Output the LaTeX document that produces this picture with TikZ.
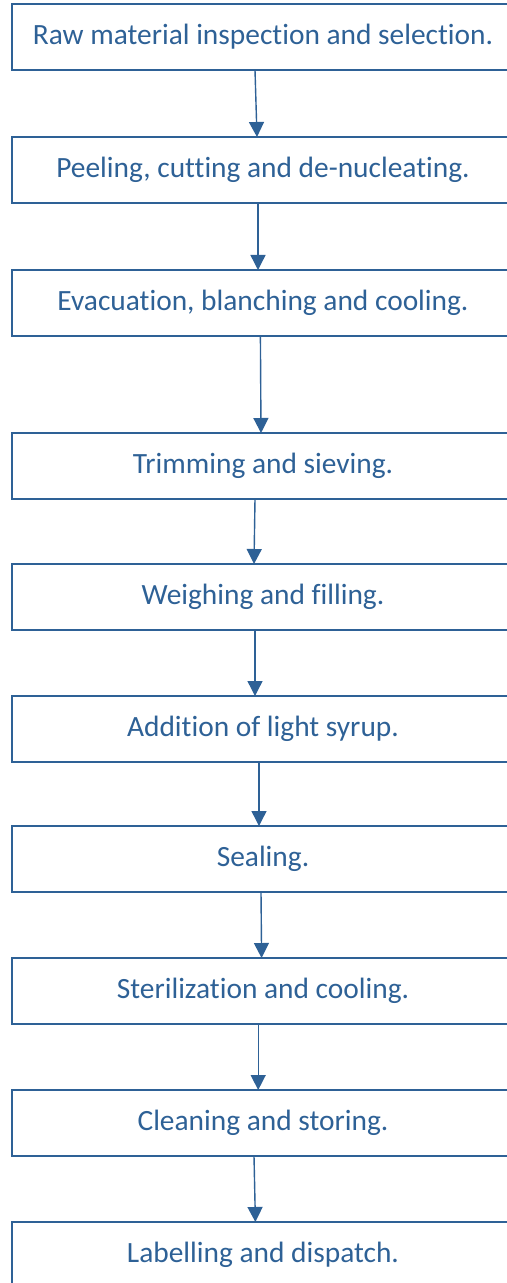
\documentclass[tikz,border=0pt]{standalone}
\usepackage{fontspec}
\setmainfont{Carlito}[Ligatures=NoCommon]
\usepackage{tikz}
\usetikzlibrary{positioning,arrows.meta}
\definecolor{flowblue}{RGB}{46,97,150}

\begin{document}
\begin{tikzpicture}[x=0.5pt,y=0.5pt,
  stepbox/.style={rectangle,draw=flowblue,line width=1pt,text=flowblue,
    minimum width=251pt,minimum height=33pt,inner sep=0pt,outer sep=0pt,
    font=\fontsize{14.7}{17}\selectfont},
  flow/.style={draw=flowblue,line width=0.7pt,-{Triangle[width=7.5pt,length=7.5pt]}}]
\path[use as bounding box] (0,0) rectangle (507,-1283);
\clip (0,0) rectangle (507,-1283);
\node [stepbox] (raw) at (263,-37) {Raw material inspection and selection.};
\node [stepbox,below=33.5pt of raw] (peel) {Peeling, cutting and de-nucleating.};
\node [stepbox,below=33.5pt of peel] (evac) {Evacuation, blanching and cooling.};
\node [stepbox,below=48.5pt of evac] (trim) {Trimming and sieving.};
\node [stepbox,below=32.5pt of trim] (weigh) {Weighing and filling.};
\node [stepbox,below=33pt of weigh] (syrup) {Addition of light syrup.};
\node [stepbox,below=32pt of syrup] (seal) {Sealing.};
\node [stepbox,below=33pt of seal] (steril) {Sterilization and cooling.};
\node [stepbox,below=33pt of steril] (clean) {Cleaning and storing.};
\node [stepbox,below=33pt of clean] (label) {Labelling and dispatch.};

\draw[flow] ([xshift=-4pt]raw.south) -- ([xshift=-3pt]peel.north);
\draw[flow] ([xshift=-2.5pt]peel.south) -- ([xshift=-2.5pt]evac.north);
\draw[flow] ([xshift=-1.3pt]evac.south) -- ([xshift=-1pt]trim.north);
\draw[flow] ([xshift=-4pt]trim.south) -- ([xshift=-4.5pt]weigh.north);
\draw[flow] ([xshift=-4pt]weigh.south) -- ([xshift=-4pt]syrup.north);
\draw[flow] ([xshift=-2pt]syrup.south) -- ([xshift=-2pt]seal.north);
\draw[flow] ([xshift=-1pt]seal.south) -- ([xshift=-0.7pt]steril.north);
\draw[flow] ([xshift=-2.4pt]steril.south) -- ([xshift=-2.4pt]clean.north);
\draw[flow] ([xshift=-4.5pt]clean.south) -- ([xshift=-3.8pt]label.north);
\end{tikzpicture}
\end{document}
